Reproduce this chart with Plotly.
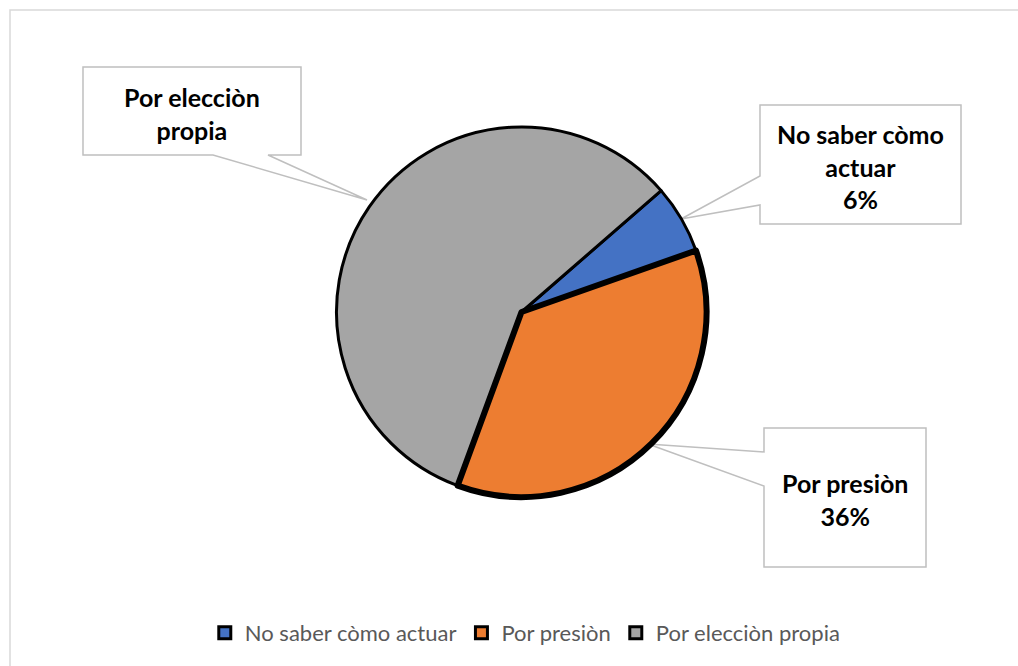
import plotly.graph_objects as go

# ---- data ----
labels = ["No saber còmo actuar", "Por presiòn", "Por elecciòn propia"]
values = [6, 36, 58]
colors = ["#4472C4", "#ED7D31", "#A5A5A5"]
callout_texts = ["No saber còmo<br>actuar<br>6%", "Por presiòn<br>36%", "Por elecciòn<br>propia"]

W, H = 1018, 666


def px(x):
    return x / W


def py(y):
    return 1 - y / H


def path(points):
    s = "M " + " L ".join(f"{px(x):.5f},{py(y):.5f}" for x, y in points) + " Z"
    return s


cx, cy, r = 521.5, 312, 185
dom_x = [px(cx - r), px(cx + r)]
dom_y = [py(cy + r), py(cy - r)]

fig = go.Figure()
fig.add_trace(go.Pie(
    labels=labels, values=values, sort=False, direction="clockwise", rotation=49,
    marker=dict(colors=colors, line=dict(color="black", width=3)),
    textinfo="none", hoverinfo="label+percent",
    domain=dict(x=dom_x, y=dom_y),
))
# thick outline over the "Por presiòn" slice
fig.add_trace(go.Pie(
    labels=labels, values=values, sort=False, direction="clockwise", rotation=49,
    marker=dict(colors=["rgba(0,0,0,0)", "rgba(0,0,0,0)", "rgba(0,0,0,0)"],
                line=dict(color=["rgba(0,0,0,0)", "black", "rgba(0,0,0,0)"], width=[0, 6, 0])),
    textinfo="none", hoverinfo="skip", showlegend=False,
    domain=dict(x=dom_x, y=dom_y),
))

shapes = [
    dict(type="rect", xref="paper", yref="paper", x0=px(10), y0=py(10), x1=1.05, y1=-0.05,
         line=dict(color="#D9D9D9", width=1.5), fillcolor="rgba(0,0,0,0)", layer="below"),
    dict(type="path", xref="paper", yref="paper", layer="below",
         path=path([(83, 67), (301, 67), (301, 155), (268, 155), (367, 200), (213, 155), (83, 155)]),
         line=dict(color="#BFBFBF", width=1.5), fillcolor="white"),
    dict(type="path", xref="paper", yref="paper", layer="below",
         path=path([(760, 105), (961, 105), (961, 224), (760, 224), (760, 205), (681, 219), (760, 176)]),
         line=dict(color="#BFBFBF", width=1.5), fillcolor="white"),
    dict(type="path", xref="paper", yref="paper", layer="below",
         path=path([(764, 428), (926, 428), (926, 567), (764, 567), (764, 486), (648, 444), (764, 452)]),
         line=dict(color="#BFBFBF", width=1.5), fillcolor="white"),
]

text_pos = [(860, 167), (845, 500), (192, 113)]
annotations = []
for t, (x, y) in zip(callout_texts, text_pos):
    annotations.append(dict(
        x=px(x), y=py(y), xref="paper", yref="paper", xanchor="center", yanchor="middle",
        text=f"<b>{t}</b>", showarrow=False, align="center",
        font=dict(family="Lato", size=25, color="black"),
    ))

fig.update_layout(
    width=W, height=H,
    margin=dict(l=0, r=0, t=0, b=0),
    paper_bgcolor="white", plot_bgcolor="white",
    shapes=shapes, annotations=annotations,
    legend=dict(orientation="h", x=0.516, xanchor="center", y=py(633), yanchor="middle",
                font=dict(family="Lato", size=22, color="#595959"),
                traceorder="normal", itemwidth=30),
)

fig.write_html("out.html")
